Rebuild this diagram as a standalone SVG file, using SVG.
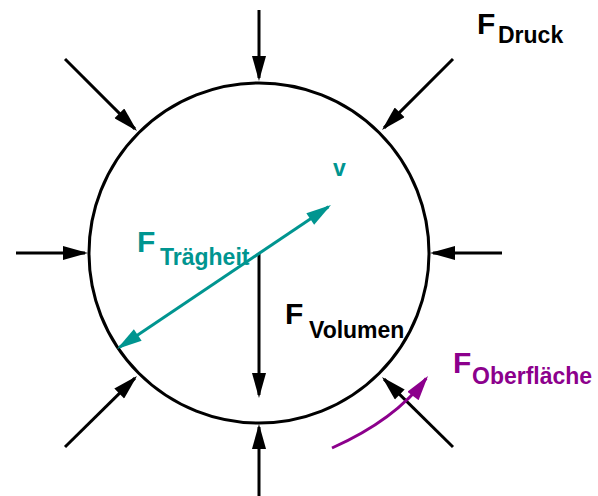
<svg xmlns="http://www.w3.org/2000/svg" width="598" height="496" viewBox="0 0 598 496">
<style>
.blk{stroke:#000;stroke-width:3;fill:none}
.tl{stroke:#009590;stroke-width:3;fill:none}
.pu{stroke:#8c008c;stroke-width:3;fill:none}
text{font-family:"Liberation Sans",Arial,sans-serif;font-weight:bold}
.big{font-size:30px}
.sub{font-size:23px}
</style>
<defs>
<marker id="ab" markerUnits="userSpaceOnUse" markerWidth="26" markerHeight="14" viewBox="0 0 25 14" refX="22" refY="7" orient="auto-start-reverse"><path d="M0,0 L25,7 L0,14 z" fill="#000"/></marker>
<marker id="at" markerUnits="userSpaceOnUse" markerWidth="26" markerHeight="14" viewBox="0 0 25 14" refX="22" refY="7" orient="auto-start-reverse"><path d="M0,0 L25,7 L0,14 z" fill="#009590"/></marker>
<marker id="ap" markerUnits="userSpaceOnUse" markerWidth="26" markerHeight="14" viewBox="0 0 25 14" refX="22" refY="7" orient="auto-start-reverse"><path d="M0,0 L25,7 L0,14 z" fill="#8c008c"/></marker>
</defs>
<g id="body"><circle cx="259" cy="253" r="170" class="blk"/></g>
<g id="connectors">
<line class="blk" x1="259" y1="10" x2="259" y2="78" marker-end="url(#ab)"/>
<line class="blk" x1="65" y1="59" x2="134.9" y2="128.9" marker-end="url(#ab)"/>
<line class="blk" x1="453" y1="59" x2="384.1" y2="127.9" marker-end="url(#ab)"/>
<line class="blk" x1="16" y1="253" x2="85" y2="253" marker-end="url(#ab)"/>
<line class="blk" x1="502" y1="253" x2="433" y2="253" marker-end="url(#ab)"/>
<line class="blk" x1="65" y1="447" x2="134.9" y2="378.1" marker-end="url(#ab)"/>
<line class="blk" x1="453" y1="447" x2="384.1" y2="379.1" marker-end="url(#ab)"/>
<line class="blk" x1="259" y1="496" x2="259" y2="427" marker-end="url(#ab)"/>
<line class="blk" x1="259" y1="253" x2="259" y2="395" marker-end="url(#ab)"/>
<line class="tl" x1="119.5" y1="347.3" x2="328.5" y2="206.7" marker-start="url(#at)" marker-end="url(#at)"/>
<path class="pu" d="M332,448 Q395,420 426.2,378.4" marker-end="url(#ap)"/>
</g>
<g id="label-druck"><text class="big" x="477" y="34">F</text><text class="sub" x="498" y="43">Druck</text></g>
<g id="label-v"><text class="sub" x="333" y="176" fill="#009590">v</text></g>
<g id="label-traegheit" fill="#009590"><text class="big" x="137" y="252">F</text><text class="sub" x="160" y="265">Trägheit</text></g>
<g id="label-volumen"><text class="big" x="285" y="324">F</text><text class="sub" x="309" y="338">Volumen</text></g>
<g id="label-oberflaeche" fill="#8c008c"><text class="big" x="453" y="373">F</text><text class="sub" x="472" y="384">Oberfläche</text></g>
</svg>
